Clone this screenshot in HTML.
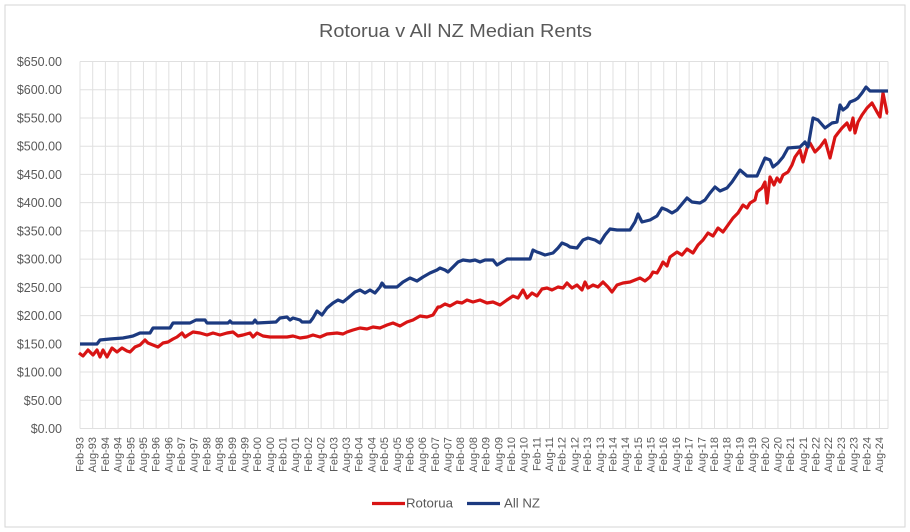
<!DOCTYPE html>
<html><head><meta charset="utf-8"><style>
html,body{margin:0;padding:0;background:#fff;}
svg{display:block;font-family:"Liberation Sans",sans-serif;}
</style></head><body>
<svg width="910" height="532" viewBox="0 0 910 532" xmlns="http://www.w3.org/2000/svg">
<rect x="0" y="0" width="910" height="532" fill="#fff"/>
<rect x="5" y="5" width="900" height="522" fill="none" stroke="#d6d6d6" stroke-width="1"/>
<text x="455.5" y="37" font-size="18" fill="#595959" text-anchor="middle" textLength="273" lengthAdjust="spacingAndGlyphs">Rotorua v All NZ Median Rents</text>
<g id="grid" stroke="#e0e0e0" stroke-width="1"></g>
<g id="ylab" font-size="12.5" fill="#595959" text-anchor="end"></g>
<g id="xlab" font-size="11" fill="#595959" text-anchor="end"></g>
<polyline fill="none" stroke="#d81414" stroke-width="3.2" stroke-linejoin="round" points="79,353 83,356 88,350 93,355 97,350 100,357 103,350 107,357 112,348 117,352 122,348 127,351 130,352 135,347 140,345 145,340 148,343 153,345 158,347 163,343 168,342 173,339 177,337 182,333 185,337 188,335 193,332 200,333 207,335 213,333 220,335 227,333 233,332 238,336 243,335 250,333 253,337 257,333 263,336 270,337 277,337 287,337 293,336 300,338 307,337 313,335 320,337 327,334 337,333 343,334 347,332 353,330 360,328 367,329 373,327 380,328 387,325 393,323 400,326 407,322 413,320 420,316 427,317 433,315 438,307 440,307 445,304 450,306 457,302 462,303 467,300 473,302 480,300 487,303 493,302 500,305 507,300 513,296 518,298 523,290 527,298 532,293 537,296 542,289 547,288 552,290 558,287 563,288 567,283 572,288 577,285 582,290 585,282 588,288 593,285 598,287 603,282 608,287 612,292 617,285 623,283 630,282 635,280 640,278 645,281 650,277 653,272 657,273 660,268 663,262 667,266 670,257 677,252 682,255 687,249 693,253 698,245 703,240 708,233 713,236 718,228 723,232 728,225 733,218 738,213 743,205 747,208 750,203 755,200 757,192 762,188 765,182 767,203 770,177 774,185 777,178 780,182 783,175 788,172 792,165 795,157 800,150 803,162 807,148 810,143 815,152 820,147 825,140 830,158 835,137 838,133 842,128 847,123 850,130 853,118 855,133 858,122 862,115 867,108 872,103 877,112 880,117 883,93 885,103 887,113 888,113"/>
<polyline fill="none" stroke="#1c3a80" stroke-width="3.2" stroke-linejoin="round" points="80,344 97,344 100,340 110,339 123,338 133,336 140,333 150,333 153,328 170,328 173,323 190,323 196,320 205,320 207,323 228,323 230,321 232,323 253,323 255,320 257,323 276,322 280,318 287,317 290,320 293,318 300,320 302,322 310,322 313,318 317,311 322,315 327,308 333,303 338,300 343,302 348,298 355,292 360,290 365,293 370,290 375,293 380,287 382,283 385,287 397,287 403,282 410,278 417,281 423,277 430,273 437,270 440,268 445,270 448,272 453,267 458,262 463,260 470,261 475,260 480,262 485,260 493,260 497,265 502,262 507,259 530,259 533,250 537,252 540,253 545,255 553,253 558,248 562,243 567,245 570,247 577,248 583,240 588,238 595,240 600,243 605,235 610,229 617,230 630,230 635,222 638,214 642,222 650,220 657,216 662,208 667,210 672,213 677,210 687,198 692,202 700,203 705,200 710,193 715,187 720,191 727,188 732,182 740,170 747,176 757,176 765,158 770,160 773,167 778,163 783,157 788,148 800,147 805,142 808,147 813,118 818,120 825,128 832,123 837,122 840,105 843,110 847,107 850,102 855,100 858,98 862,93 866,87 870,91 888,91"/>
<line x1="372" y1="503.5" x2="405" y2="503.5" stroke="#d81414" stroke-width="3.2"/>
<text x="406" y="507.5" font-size="12.5" fill="#595959" textLength="47" lengthAdjust="spacingAndGlyphs">Rotorua</text>
<line x1="467" y1="503.5" x2="500" y2="503.5" stroke="#1c3a80" stroke-width="3.2"/>
<text x="504" y="507.5" font-size="12.5" fill="#595959" textLength="36" lengthAdjust="spacingAndGlyphs">All NZ</text>
<script>
(function(){
var ns="http://www.w3.org/2000/svg";
var grid=document.getElementById('grid'),yl=document.getElementById('ylab'),xl=document.getElementById('xlab');
var y0=428.5, step=28.23;
for(var k=0;k<=13;k++){
  var y=y0-k*step;
  var l=document.createElementNS(ns,'line');
  l.setAttribute('x1',80);l.setAttribute('x2',888);l.setAttribute('y1',y);l.setAttribute('y2',y);
  grid.appendChild(l);
  var t=document.createElementNS(ns,'text');
  t.setAttribute('x',62);t.setAttribute('y',y+4.5);
  t.textContent='$'+(k*50)+'.00';
  yl.appendChild(t);
}
var sp=12.69;
for(var i=0;i<64;i++){
  var x=80+i*sp;
  var l=document.createElementNS(ns,'line');
  l.setAttribute('x1',x);l.setAttribute('x2',x);l.setAttribute('y1',61.5);l.setAttribute('y2',428.5);
  grid.appendChild(l);
  var yr=93+Math.floor(i/2); var yy=(yr%100); yy=(yy<10?'0':'')+yy;
  var t=document.createElementNS(ns,'text');
  t.setAttribute('transform','translate('+(x+3.5)+',437) rotate(-90)');
  t.textContent=(i%2==0?'Feb-':'Aug-')+yy;
  xl.appendChild(t);
}
var l=document.createElementNS(ns,'line');
l.setAttribute('x1',888);l.setAttribute('x2',888);l.setAttribute('y1',61.5);l.setAttribute('y2',428.5);
grid.appendChild(l);
})();
</script>
</svg>
</body></html>
